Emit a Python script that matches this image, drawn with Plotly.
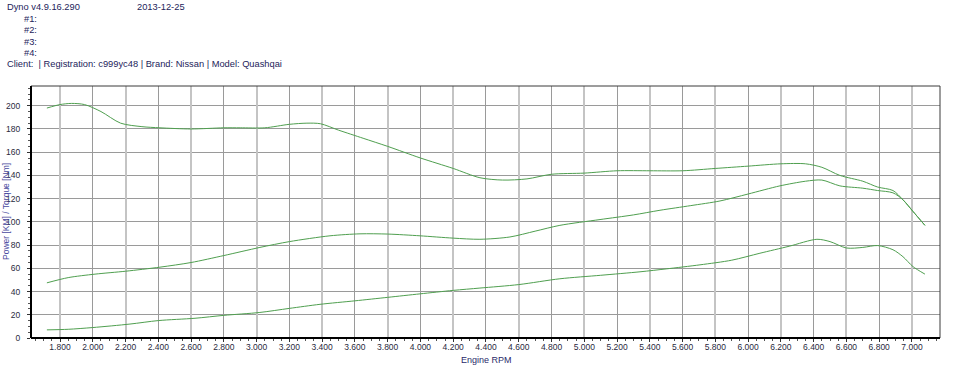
import plotly.graph_objects as go

# ---- data ----
rpm_torque = [1720, 1800, 1870, 1950, 2050, 2170, 2300, 2410, 2600, 2800, 2900, 3050, 3200, 3307, 3390, 3500,
              3650, 3800, 4000, 4200, 4363, 4500, 4650, 4800, 5000, 5200, 5400, 5600, 5800, 6000, 6200, 6350,
              6450, 6560, 6700, 6790, 6884, 6945, 7006, 7079]
torque = [198, 201, 202, 201, 195, 185, 182, 181, 180, 181, 181, 181, 184, 185, 184.5, 179,
          172, 165, 155, 146, 138, 136, 137, 141, 142, 144, 144, 144, 146, 148, 150, 150,
          147, 140, 135, 130, 127, 119, 109, 97]

rpm_power = [1720, 1850, 2014, 2200, 2410, 2600, 2800, 3020, 3200, 3448, 3631, 3800, 3997, 4200, 4363, 4546,
             4700, 4851, 5096, 5300, 5462, 5650, 5828, 6000, 6194, 6350, 6450, 6560, 6700, 6790, 6884, 6945, 7006, 7079]
power = [47.5, 52, 55, 57.5, 61, 65, 71, 78, 83, 88, 89.7, 89.5, 88, 86, 85, 87,
         92, 97, 102, 106, 110, 114, 118, 124, 131, 135, 136, 131, 129, 127, 125, 119, 109, 97]

rpm_loss = [1720, 1850, 2000, 2227, 2400, 2624, 2800, 3020, 3200, 3387, 3600, 3800, 3997, 4200, 4363, 4600,
            4851, 5100, 5340, 5500, 5706, 5900, 6072, 6250, 6420, 6500, 6600, 6700, 6790, 6884, 6945, 7006, 7079]
loss = [7, 7.5, 9, 12, 15, 17, 19.5, 22, 25.5, 29, 32, 35, 38, 41, 43, 46,
        51, 54, 57, 59.5, 63, 67, 73, 79, 85, 83, 77.5, 78, 79.6, 76, 70, 61.5, 55]

x_tickvals = list(range(1800, 7001, 200))
x_ticktext = [f"{v // 1000}.{v % 1000:03d}" for v in x_tickvals]
y_tickvals = list(range(0, 201, 20))

header_lines = [
    ("Dyno v4.9.16.290", 5, 7),
    ("2013-12-25", 135, 7),
    ("#1:", 22, 19),
    ("#2:", 22, 30),
    ("#3:", 22, 42),
    ("#4:", 22, 53),
    ("Client:  | Registration: c999yc48 | Brand: Nissan | Model: Quashqai", 5, 64),
]

# ---- layout geometry ----
W, H = 960, 372
L, R, T, B = 31, 20, 86, 34
PW, PH = W - L - R, H - T - B
FONT = "Liberation Sans Narrow, Arial Narrow, Liberation Sans, Arial, sans-serif"
GREEN = "#4f9f4f"
NAVY = "#23235a"


def px(xp):
    return (xp - L) / PW


def py(yp):
    return 1 - (yp - T) / PH


fig = go.Figure()
xr = [1623, 7171]
yr = [0, 217]

# invisible trace to activate the secondary (thick, light) vertical grid
fig.add_trace(go.Scatter(x=[xr[0]], y=[0], xaxis="x2", mode="markers", marker=dict(opacity=0), showlegend=False,
                         hoverinfo="skip"))
for xs, ys in [(rpm_torque, torque), (rpm_power, power), (rpm_loss, loss)]:
    fig.add_trace(go.Scatter(x=xs, y=ys, mode="lines", line=dict(color=GREEN, width=1, shape="spline", smoothing=0.8),
                             showlegend=False, hoverinfo="skip"))

fig.update_layout(
    width=W, height=H,
    margin=dict(l=L, r=R, t=T, b=B, pad=0, autoexpand=False),
    paper_bgcolor="white", plot_bgcolor="white",
    font=dict(family=FONT, size=10, color=NAVY),
    xaxis=dict(range=xr, tickvals=x_tickvals, ticktext=x_ticktext, showgrid=True, gridcolor="#9a9a9a", gridwidth=1,
               ticks="outside", ticklen=3, tickcolor="#333", tickfont=dict(size=8.5, color="#2a2a40"),
               ticklabelstandoff=-2, automargin=False,
               minor=dict(dtick=50, tick0=1800, ticks="outside", ticklen=2, tickcolor="#555", showgrid=False),
               showline=False, zeroline=False),
    xaxis2=dict(range=xr, overlaying="x", tickvals=x_tickvals[::2], showticklabels=False, showgrid=True,
                gridcolor="#c4c4c4", gridwidth=2, showline=False, zeroline=False, ticks="", automargin=False),
    yaxis=dict(range=yr, tickvals=y_tickvals, showgrid=True, gridcolor="#9a9a9a", gridwidth=1,
               ticks="outside", ticklen=3, tickcolor="#333", tickfont=dict(size=8.5, color="#2a2a40"),
               ticklabelstandoff=5, automargin=False,
               minor=dict(dtick=5, ticks="outside", ticklen=2, tickcolor="#555", showgrid=False),
               showline=False, zeroline=False),
)

# frame
fig.add_shape(type="rect", xref="paper", yref="paper", x0=0, x1=1, y0=0, y1=1, line=dict(color="#3a3a3a", width=1),
              layer="above")
fig.add_shape(type="line", xref="paper", yref="paper", x0=0, x1=1, y0=0, y1=0, line=dict(color="black", width=2),
              layer="above")
fig.add_shape(type="line", xref="paper", yref="paper", x0=0, x1=0, y0=0, y1=1, line=dict(color="black", width=2),
              layer="above")

for text, x0, yc in header_lines:
    fig.add_annotation(text=text, xref="paper", yref="paper", x=px(x0), y=py(yc), xanchor="left", yanchor="middle",
                       showarrow=False, font=dict(size=9.3, color=NAVY, family=FONT))

fig.add_annotation(text="Engine RPM", xref="paper", yref="paper", x=px(486), y=py(360), xanchor="center",
                   yanchor="middle", showarrow=False, font=dict(size=9, color="#2a2a6a", family=FONT))
fig.add_annotation(text="Power [KM] / Torque [Nm]", xref="paper", yref="paper", x=px(6), y=py(212), textangle=-90,
                   xanchor="center", yanchor="middle", showarrow=False,
                   font=dict(size=8.5, color="#4a4aa0", family=FONT))

fig.write_html("out.html")
